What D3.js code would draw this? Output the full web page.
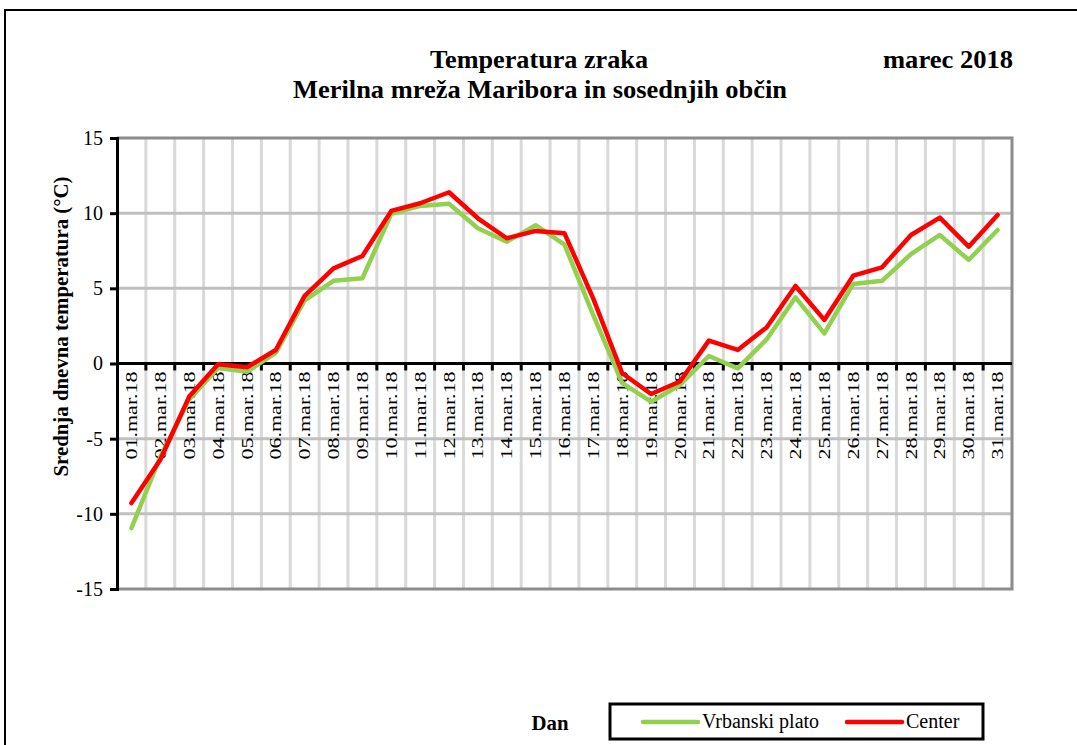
<!DOCTYPE html>
<html>
<head>
<meta charset="utf-8">
<script src="https://cdn.jsdelivr.net/npm/d3@7"></script>
<style>
  body { margin: 0; background: #fff; }
</style>
</head>
<body>
<div class="chart"></div>
<script>
// === Data ===
const days = ["01.mar.18", "02.mar.18", "03.mar.18", "04.mar.18", "05.mar.18", "06.mar.18",
  "07.mar.18", "08.mar.18", "09.mar.18", "10.mar.18", "11.mar.18", "12.mar.18", "13.mar.18",
  "14.mar.18", "15.mar.18", "16.mar.18", "17.mar.18", "18.mar.18", "19.mar.18", "20.mar.18",
  "21.mar.18", "22.mar.18", "23.mar.18", "24.mar.18", "25.mar.18", "26.mar.18", "27.mar.18",
  "28.mar.18", "29.mar.18", "30.mar.18", "31.mar.18"];
const vrbanski = [-10.95, -6.2, -2.4, -0.3, -0.55, 0.7, 4.2, 5.5, 5.67, 9.95, 10.48, 10.63, 9.0,
  8.1, 9.2, 7.9, 3.2, -1.3, -2.54, -1.43, 0.5, -0.32, 1.6, 4.4, 2.0, 5.29, 5.5, 7.28, 8.55, 6.89, 8.88];
const center = [-9.28, -6.4, -2.2, -0.05, -0.25, 0.9, 4.5, 6.33, 7.15, 10.15, 10.66, 11.39, 9.66,
  8.33, 8.82, 8.66, 4.3, -0.65, -2.03, -1.2, 1.52, 0.9, 2.4, 5.16, 2.9, 5.84, 6.4, 8.55, 9.7, 7.77, 9.88];
const yTicks = [-15, -10, -5, 0, 5, 10, 15];
const seriesNames = ["Vrbanski plato", "Center"];
const seriesColors = ["#92d050", "#ff0000"];

const FONT = "'Liberation Serif', 'Times New Roman', 'DejaVu Serif', serif";
const W = 1077, H = 745;
const plot = {left: 117, right: 1012, top: 138, bottom: 589};

const svg = d3.select(".chart").append("svg")
    .attr("width", W)
    .attr("height", H);

// outer frame
svg.append("rect")
    .attr("x", 5).attr("y", 10)
    .attr("width", 1200).attr("height", 900)
    .attr("fill", "none").attr("stroke", "#000").attr("stroke-width", 2);

// scales
const xScale = d3.scaleBand().domain(days).range([plot.left, plot.right]).padding(0);
const yScale = d3.scaleLinear().domain([-15, 15]).range([plot.bottom, plot.top]);
const xMid = d => xScale(d) + xScale.bandwidth() / 2;

// vertical grid (category boundaries)
svg.append("g")
    .selectAll("line")
    .data(days.slice(1))
    .join("line")
    .attr("x1", d => xScale(d)).attr("x2", d => xScale(d))
    .attr("y1", plot.top).attr("y2", plot.bottom)
    .attr("stroke", "#d9d9d9").attr("stroke-width", 3);

// horizontal grid
svg.append("g")
    .selectAll("line")
    .data(yTicks.filter(v => v !== 0 && v !== 15 && v !== -15))
    .join("line")
    .attr("x1", plot.left).attr("x2", plot.right)
    .attr("y1", d => yScale(d)).attr("y2", d => yScale(d))
    .attr("stroke", "#c0c0c0").attr("stroke-width", 3);

// plot border (top, right, bottom)
svg.append("path")
    .attr("d", `M${plot.left},${yScale(15)}H${plot.right}V${yScale(-15)}H${plot.left}`)
    .attr("fill", "none").attr("stroke", "#8c8c8c").attr("stroke-width", 3);

// y axis
const yAxis = d3.axisLeft(yScale).tickValues(yTicks).tickSize(7).tickPadding(7)
    .tickFormat(d => String(d));
const gy = svg.append("g")
    .attr("transform", `translate(${plot.left},0)`)
    .call(yAxis);
gy.select(".domain").attr("stroke", "#000").attr("stroke-width", 3);
gy.selectAll(".tick line").attr("stroke", "#000").attr("stroke-width", 3);
gy.selectAll(".tick text")
    .style("font-family", FONT)
    .style("font-size", "20px")
    .attr("fill", "#000");

// x axis along zero line
const gx = svg.append("g")
    .attr("transform", `translate(0,${yScale(0)})`);
gx.append("line")
    .attr("x1", plot.left).attr("x2", plot.right)
    .attr("stroke", "#000").attr("stroke-width", 3);
gx.selectAll(".xt")
    .data(days.slice(1))
    .join("line")
    .attr("class", "xt")
    .attr("x1", d => xScale(d)).attr("x2", d => xScale(d))
    .attr("y1", 0).attr("y2", 7)
    .attr("stroke", "#000").attr("stroke-width", 3);
gx.selectAll(".xl")
    .data(days)
    .join("text")
    .attr("class", "xl")
    .attr("transform", d => `translate(${xMid(d)},8) rotate(-90)`)
    .attr("text-anchor", "end")
    .attr("dy", "0.35em")
    .style("font-family", FONT)
    .style("font-size", "16px")
    .attr("textLength", 88)
    .attr("lengthAdjust", "spacingAndGlyphs")
    .text(d => d);

// lines
const line = d3.line()
    .x((d, i) => xMid(days[i]))
    .y(d => yScale(d));

[vrbanski, center].forEach((vals, k) => {
  svg.append("path")
      .datum(vals)
      .attr("d", line)
      .attr("fill", "none")
      .attr("stroke", seriesColors[k])
      .attr("stroke-width", 4.5)
      .attr("stroke-linejoin", "round")
      .attr("stroke-linecap", "round");
});

// titles
function boldText(x, y, size, len, anchor, txt) {
  return svg.append("text")
      .attr("x", x).attr("y", y)
      .attr("text-anchor", anchor)
      .style("font-family", FONT)
      .style("font-size", size + "px")
      .style("font-weight", "bold")
      .attr("textLength", len)
      .attr("lengthAdjust", "spacingAndGlyphs")
      .text(txt);
}
boldText(539, 68, 26, 218, "middle", "Temperatura zraka");
boldText(540, 98, 26, 494, "middle", "Merilna mreža Maribora in sosednjih občin");
boldText(1013, 68, 26, 130, "end", "marec 2018");

// y title
svg.append("text")
    .attr("transform", `translate(68,${(175 + 478) / 2}) rotate(-90)`)
    .attr("text-anchor", "middle")
    .style("font-family", FONT)
    .style("font-size", "22px")
    .style("font-weight", "bold")
    .attr("textLength", 300)
    .attr("lengthAdjust", "spacingAndGlyphs")
    .text("Srednja dnevna temperatura (°C)");

// x title
boldText(550, 730, 21, 37, "middle", "Dan");

// legend
const lg = svg.append("g");
lg.append("rect")
    .attr("x", 610).attr("y", 704)
    .attr("width", 373).attr("height", 35)
    .attr("fill", "#fff").attr("stroke", "#000").attr("stroke-width", 3);
const legX = [643, 847];
seriesNames.forEach((name, k) => {
  lg.append("line")
      .attr("x1", legX[k]).attr("x2", legX[k] + 55)
      .attr("y1", 722).attr("y2", 722)
      .attr("stroke", seriesColors[k]).attr("stroke-width", 4.5)
      .attr("stroke-linecap", "round");
  lg.append("text")
      .attr("x", legX[k] + 59).attr("y", 728)
      .style("font-family", FONT)
      .style("font-size", "20px")
      .text(name);
});
</script>
</body>
</html>
